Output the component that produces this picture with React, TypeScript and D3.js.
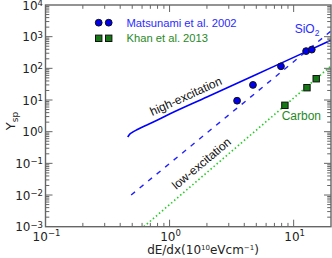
import { useEffect, useRef } from "react";
import * as d3 from "d3";

// Matsunami et al. 2002 (SiO2)
const matsuDE = [3.5, 4.7, 7.9, 12.6, 14.0];
const matsuY = [9.5, 30, 116, 350, 390];

// Khan et al. 2013 (Carbon)
const khanDE = [8.5, 12.8, 15.2];
const khanY = [6.8, 24.5, 47];

// high-excitation model curve
const highDE = [0.46, 0.475, 0.5, 0.55, 0.65, 0.8, 1, 2, 5, 10, 20];
const highY = [0.68, 0.82, 0.95, 1.17, 1.6, 2.35, 3.6, 12.4, 64, 222, 768];

// low-excitation fits
const sio2DE = [0.49, 20];
const sio2Y = [0.01, 1500];
const carbonDE = [0.62, 20];
const carbonY = [0.001, 119];

const xTickVals = [0.1, 1, 10];
const xTickExp = ["\u22121", "0", "1"];
const yTickVals = [1e-3, 1e-2, 1e-1, 1, 10, 100, 1e3, 1e4];
const yTickExp = ["\u22123", "\u22122", "\u22121", "0", "1", "2", "3", "4"];

const legendNames = ["Matsunami et al. 2002", "Khan et al. 2013"];

export default function App() {
  const svgRef = useRef<SVGSVGElement>(null);

  useEffect(() => {
    const width = 332,
      height = 258;
    const margin = { top: 5, right: 1, bottom: 31.3, left: 45.5 };

    const svg = d3.select(svgRef.current);
    svg.selectAll("*").remove();
    svg.attr("width", width).attr("height", height);

    const x = d3
      .scaleLog()
      .domain([0.1, 20])
      .range([margin.left, width - margin.right]);
    const y = d3
      .scaleLog()
      .domain([1e-3, 1e4])
      .range([height - margin.bottom, margin.top]);

    const [x0, x1] = x.range();
    const [y0, y1] = y.range(); // y0 bottom, y1 top
    const axisColor = "#666";
    const tickFont = "DejaVu Sans, sans-serif";
    const textFont = "Liberation Sans, Arial, sans-serif";

    // lines
    const line = d3
      .line<[number, number]>()
      .x((d) => x(d[0]))
      .y((d) => y(d[1]))
      .curve(d3.curveMonotoneX);

    const g = svg.append("g");
    g.append("defs")
      .append("clipPath")
      .attr("id", "plotclip")
      .append("rect")
      .attr("x", x0)
      .attr("y", y1)
      .attr("width", x1 - x0)
      .attr("height", y0 - y1);

    const lines = g.append("g").attr("clip-path", "url(#plotclip)");
    lines
      .append("path")
      .datum(highDE.map((d, i) => [d, highY[i]] as [number, number]))
      .attr("d", line)
      .attr("fill", "none")
      .attr("stroke", "#0000ff")
      .attr("stroke-width", 1.6);
    lines
      .append("path")
      .datum(sio2DE.map((d, i) => [d, sio2Y[i]] as [number, number]))
      .attr("d", line)
      .attr("fill", "none")
      .attr("stroke", "#2222ff")
      .attr("stroke-width", 1.4)
      .attr("stroke-dasharray", "5,6");
    lines
      .append("path")
      .datum(carbonDE.map((d, i) => [d, carbonY[i]] as [number, number]))
      .attr("d", line)
      .attr("fill", "none")
      .attr("stroke", "#22cc22")
      .attr("stroke-width", 1.6)
      .attr("stroke-dasharray", "1.5,2.5");

    // points
    g.append("g")
      .selectAll("circle")
      .data(matsuDE.map((d, i) => [d, matsuY[i]]))
      .join("circle")
      .attr("cx", (d) => x(d[0]))
      .attr("cy", (d) => y(d[1]))
      .attr("r", 3.4)
      .attr("fill", "#0000ee")
      .attr("stroke", "#111")
      .attr("stroke-width", 1);
    g.append("g")
      .selectAll("rect")
      .data(khanDE.map((d, i) => [d, khanY[i]]))
      .join("rect")
      .attr("x", (d) => x(d[0]) - 3.2)
      .attr("y", (d) => y(d[1]) - 3.2)
      .attr("width", 6.4)
      .attr("height", 6.4)
      .attr("fill", "#157a15")
      .attr("stroke", "#111")
      .attr("stroke-width", 1);

    // frame
    g.append("rect")
      .attr("x", x0)
      .attr("y", y1)
      .attr("width", x1 - x0)
      .attr("height", y0 - y1)
      .attr("fill", "none")
      .attr("stroke", axisColor)
      .attr("stroke-width", 1.4);

    // ticks (inward on all four sides)
    const ticks = g.append("g").attr("stroke", axisColor).attr("stroke-width", 1);
    const isMajor = (v: number) => Math.abs(Math.log10(v) - Math.round(Math.log10(v))) < 1e-6;
    x.ticks().forEach((v) => {
      const px = x(v);
      if (px <= x0 + 0.5 || px >= x1 - 0.5) return;
      const len = isMajor(v) ? 7 : 3.8;
      ticks.append("line").attr("x1", px).attr("x2", px).attr("y1", y0).attr("y2", y0 - len);
      ticks.append("line").attr("x1", px).attr("x2", px).attr("y1", y1).attr("y2", y1 + len);
    });
    y.ticks().forEach((v) => {
      const py = y(v);
      if (py >= y0 - 0.5 || py <= y1 + 0.5) return;
      const len = isMajor(v) ? 7 : 3.8;
      ticks.append("line").attr("x1", x0).attr("x2", x0 + len).attr("y1", py).attr("y2", py);
      ticks.append("line").attr("x1", x1).attr("x2", x1 - len).attr("y1", py).attr("y2", py);
    });

    // tick labels
    xTickVals.forEach((v, i) => {
      const t = g
        .append("text")
        .attr("x", x(v) + 1)
        .attr("y", y0 + 13.8)
        .attr("text-anchor", "middle")
        .attr("font-family", tickFont)
        .attr("font-size", 12)
        .attr("fill", "#222");
      t.append("tspan").text("10");
      t.append("tspan").attr("dy", -4.5).attr("font-size", 8.5).text(xTickExp[i]);
    });
    yTickVals.forEach((v, i) => {
      const t = g
        .append("text")
        .attr("x", x0 - 2.5)
        .attr("y", y(v) + 4.5)
        .attr("text-anchor", "end")
        .attr("font-family", tickFont)
        .attr("font-size", 12)
        .attr("fill", "#222");
      t.append("tspan").text("10");
      t.append("tspan").attr("dy", -3.5).attr("font-size", 8.5).text(yTickExp[i]);
    });

    // axis titles
    const xt = g
      .append("text")
      .attr("x", 203)
      .attr("y", height - 3.8)
      .attr("text-anchor", "middle")
      .attr("font-family", tickFont)
      .attr("font-size", 12)
      .attr("fill", "#222");
    xt.append("tspan").text("dE/dx(10");
    xt.append("tspan").attr("dy", -4).attr("font-size", 7).text("10");
    xt.append("tspan").attr("dy", 4).text("eVcm");
    xt.append("tspan").attr("dy", -4).attr("font-size", 7).text("\u22121");
    xt.append("tspan").attr("dy", 4).text(")");

    const yt = g
      .append("text")
      .attr("transform", `translate(15,121) rotate(-90)`)
      .attr("text-anchor", "middle")
      .attr("font-family", tickFont)
      .attr("font-size", 13)
      .attr("fill", "#222");
    yt.append("tspan").text("Y");
    yt.append("tspan").attr("dy", 3).attr("font-size", 9).text("sp");

    // legend
    const leg = g.append("g");
    [98.7, 108.7].forEach((cx) => {
      leg.append("circle").attr("cx", cx).attr("cy", 22.7).attr("r", 3.4)
        .attr("fill", "#0000ee").attr("stroke", "#111").attr("stroke-width", 1);
      leg.append("rect").attr("x", cx - 3.2).attr("y", 38.3 - 3.2).attr("width", 6.4).attr("height", 6.4)
        .attr("fill", "#157a15").attr("stroke", "#111").attr("stroke-width", 1);
    });
    leg.append("text").attr("x", 126.5).attr("y", 26.7).attr("font-family", textFont)
      .attr("font-size", 11.2).attr("fill", "#2b2bff").text(legendNames[0]);
    leg.append("text").attr("x", 126.5).attr("y", 42.3).attr("font-family", textFont)
      .attr("font-size", 11.2).attr("fill", "#1f8a1f").text(legendNames[1]);

    // annotations
    g.append("text")
      .attr("transform", `translate(${x(0.726)},${y(3.13)}) rotate(-24.5)`)
      .attr("font-family", textFont)
      .attr("font-size", 12)
      .attr("fill", "#111")
      .text("high-excitation");
    g.append("text")
      .attr("transform", `translate(${x(1.13)},${y(0.0145)}) rotate(-40)`)
      .attr("font-family", textFont)
      .attr("font-size", 12)
      .attr("fill", "#111")
      .text("low-excitation");
    const sio2 = g.append("text")
      .attr("x", x(10.2))
      .attr("y", y(1306))
      .attr("font-family", textFont)
      .attr("font-size", 12)
      .attr("fill", "#2b2bff");
    sio2.append("tspan").text("SiO");
    sio2.append("tspan").attr("dy", 3).attr("font-size", 8.5).text("2");
    g.append("text")
      .attr("x", x(8.0))
      .attr("y", y(2.34))
      .attr("font-family", textFont)
      .attr("font-size", 12)
      .attr("fill", "#1f8a1f")
      .text("Carbon");
  }, []);

  return <svg ref={svgRef} style={{ position: "absolute", left: 0, top: 0 }}></svg>;
}
